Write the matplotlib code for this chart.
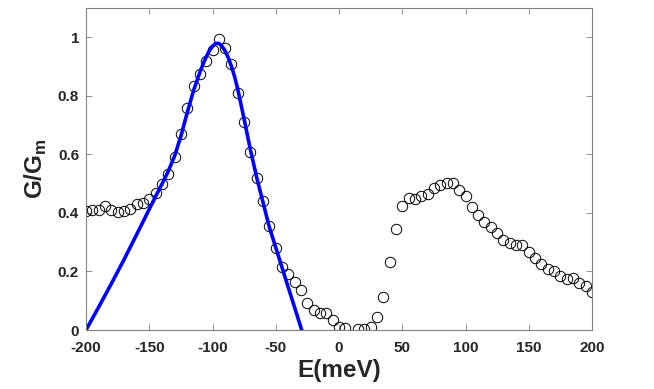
import matplotlib
matplotlib.use('Agg')
import matplotlib.pyplot as plt

plt.rcParams['font.family'] = ['Liberation Sans', 'DejaVu Sans']
plt.rcParams['mathtext.fontset'] = 'custom'
plt.rcParams['mathtext.rm'] = 'Liberation Sans:bold'
plt.rcParams['mathtext.bf'] = 'Liberation Sans:bold'
plt.rcParams['axes.unicode_minus'] = False

# measured conductance (open circles)
energy = [-200, -195, -190, -185, -180, -175, -170, -165, -160, -155, -150, -145,
          -140, -135, -130, -125, -120, -115, -110, -105, -100, -95, -90, -85,
          -80, -75, -70, -65, -60, -55, -50, -45, -40, -35, -30, -25, -20, -15,
          -10, -5, 0, 5, 15, 20, 25, 30, 35, 40, 45, 50, 55, 60, 65, 70, 75, 80,
          85, 90, 95, 100, 105, 110, 115, 120, 125, 130, 135, 140, 145, 150,
          155, 160, 165, 170, 175, 180, 185, 190, 195, 200]
g_meas = [0.405, 0.409, 0.411, 0.422, 0.409, 0.402, 0.405, 0.413, 0.430, 0.434,
          0.449, 0.468, 0.500, 0.534, 0.590, 0.670, 0.759, 0.833, 0.876, 0.918,
          0.955, 0.993, 0.965, 0.909, 0.810, 0.710, 0.607, 0.518, 0.440, 0.354,
          0.279, 0.216, 0.190, 0.163, 0.135, 0.091, 0.068, 0.058, 0.058, 0.034,
          0.011, 0.006, 0.003, 0.002, 0.011, 0.046, 0.112, 0.233, 0.346, 0.425,
          0.450, 0.447, 0.457, 0.465, 0.486, 0.495, 0.502, 0.502, 0.478, 0.457,
          0.419, 0.394, 0.369, 0.352, 0.331, 0.308, 0.297, 0.290, 0.289, 0.267,
          0.245, 0.225, 0.208, 0.200, 0.185, 0.174, 0.179, 0.162, 0.151, 0.130]

# model curve (blue line)
e_fit = [-200, -195, -190, -185, -180, -175, -170, -165, -160, -155, -150, -145,
         -140, -135, -130, -125, -120, -115, -110, -107.5, -105, -102.5, -100,
         -97.5, -95, -92.5, -90, -87.5, -85, -82.5, -80, -75, -70, -65, -60,
         -55, -50, -45, -40, -35, -29.5]
g_fit = [0.0, 0.039, 0.078, 0.118, 0.158, 0.199, 0.240, 0.283, 0.326, 0.369,
         0.413, 0.456, 0.498, 0.542, 0.594, 0.662, 0.742, 0.818, 0.880, 0.908,
         0.933, 0.954, 0.969, 0.979, 0.979, 0.969, 0.953, 0.930, 0.900, 0.865,
         0.822, 0.720, 0.615, 0.520, 0.435, 0.350, 0.282, 0.213, 0.144, 0.076,
         0.0]

fig = plt.figure(figsize=(6.54, 3.89), dpi=100)
ax = fig.add_axes([86 / 654, 59 / 389, 506 / 654, 322 / 389])

ax.plot(energy, g_meas, 'o', mfc='none', mec='black', ms=7.5, mew=0.7)
ax.plot(e_fit, g_fit, '-', color='#0000ff', lw=2.6)

ax.set_xlim(-200, 200)
ax.set_ylim(0, 1.1)
ax.set_xticks(range(-200, 201, 50))
ax.set_yticks([0, 0.2, 0.4, 0.6, 0.8, 1])
ax.set_yticklabels(['0', '0.2', '0.4', '0.6', '0.8', '1'])

for s in ax.spines.values():
    s.set_color('#808080')
    s.set_linewidth(0.8)
ax.tick_params(direction='in', top=True, right=True, length=4, width=0.6,
               color='#808080', labelsize=11, labelcolor='#262626')
ax.tick_params(axis='x', pad=8)
ax.tick_params(axis='y', pad=5)
for lab in ax.get_xticklabels() + ax.get_yticklabels():
    lab.set_fontweight('bold')

ax.set_xlabel('E(meV)', fontsize=17.5, fontweight='bold', color='#262626', labelpad=3)
ax.set_ylabel(r'G/G$_\mathrm{m}$', fontsize=17.5, fontweight='bold', color='#262626', labelpad=6)

fig.savefig('out.png', dpi=100)
